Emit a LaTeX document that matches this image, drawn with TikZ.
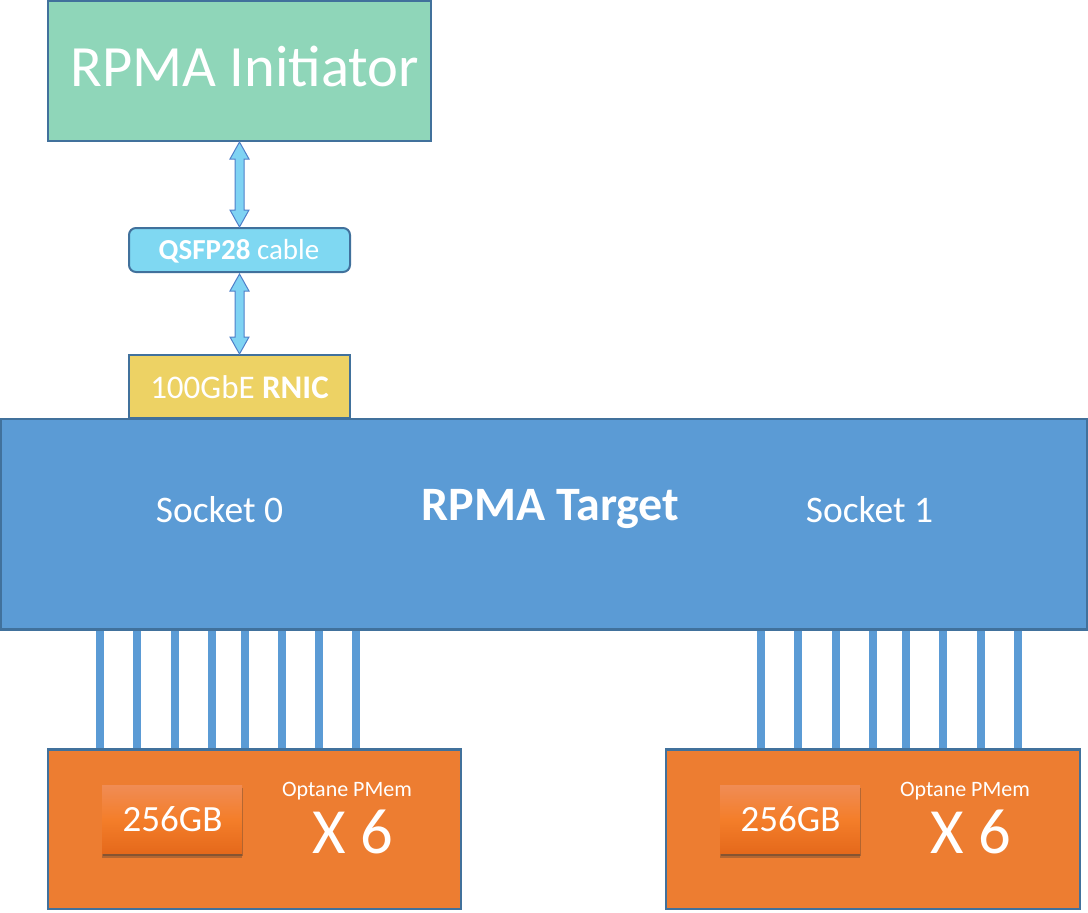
\documentclass[tikz,border=0pt]{standalone}
\usepackage{fontspec}
\setmainfont{Carlito}
\usetikzlibrary{calc,shadows}
\definecolor{bordc}{HTML}{41719C}
\definecolor{initc}{HTML}{8FD6B9}
\definecolor{qsfpc}{HTML}{7FD8F2}
\definecolor{rnicc}{HTML}{EDD264}
\definecolor{targc}{HTML}{5B9BD5}
\definecolor{orgc}{HTML}{ED7D31}
\definecolor{arrfill}{HTML}{7FD3F3}
\definecolor{arrline}{HTML}{4F7FC9}
\definecolor{chiptop}{HTML}{F08C55}
\definecolor{chipmid}{HTML}{F47E2A}
\definecolor{chipbot}{HTML}{E5691B}
\tikzset{
  box/.style={draw=bordc, line width=2pt, inner sep=0pt},
  lbl/.style={text=white, inner sep=0pt, anchor=base},
  bus/.style={draw=targc, line width=8pt},
  arr/.style={fill=arrfill, draw=arrline, line width=1pt, line join=miter},
  chip/.style={inner sep=0pt, minimum width=140pt, minimum height=68pt,
    top color=chiptop, bottom color=chipbot, middle color=chipmid,
    drop shadow={shadow xshift=0pt, shadow yshift=-5pt, opacity=0.3, fill=black!80},
    drop shadow={shadow xshift=1pt, shadow yshift=-3pt, opacity=0.35, fill=black!80}}
}
\newcommand{\dblarrow}[2]{%
  \draw[arr] let \p1=(#1), \p2=(#2) in
   (\x1,\y1) -- (\x1+9.5pt,\y1-17pt) -- (\x1+4.5pt,\y1-17pt) -- (\x1+4.5pt,\y2+17pt)
   -- (\x1+9.5pt,\y2+17pt) -- (\x1,\y2) -- (\x1-9.5pt,\y2+17pt) -- (\x1-4.5pt,\y2+17pt)
   -- (\x1-4.5pt,\y1-17pt) -- (\x1-9.5pt,\y1-17pt) -- cycle;}
\begin{document}
\begin{tikzpicture}[x=1pt,y=-1pt]
\useasboundingbox (0,0) rectangle (1088,913);
% boxes
\node[box, fill=initc, minimum width=383pt, minimum height=140pt] (init) at (239.5,71) {};
\node[box, fill=qsfpc, rounded corners=7pt, minimum width=221pt, minimum height=44pt] (qsfp) at (239.5,250) {};
\node[box, fill=rnicc, minimum width=221pt, minimum height=63pt] (rnic) at (239.5,386.5) {};
\node[box, fill=targc, minimum width=1086pt, minimum height=210pt] (targ) at (544,524) {};
% texts
\node[lbl, font=\fontsize{58.5}{60}\selectfont] (initt) at (245,86) {RPMA Initiator};
\node[lbl, font=\fontsize{29}{31}\selectfont] (qsfpt) at (239,259.3) {\textbf{QSFP28} cable};
\node[lbl, font=\fontsize{33}{35}\selectfont] (rnict) at (239.5,398.3) {100GbE \textbf{RNIC}};
\node[lbl, font=\bfseries\fontsize{48}{50}\selectfont] (targt) at (550.5,520) {RPMA Target};
\node[lbl, font=\fontsize{37.5}{39}\selectfont] (s0) at (219.5,522.5) {Socket 0};
\node[lbl, font=\fontsize{37.5}{39}\selectfont] (s1) at (869.5,522.5) {Socket 1};
% arrows
\coordinate (a1t) at (init.south -| 239.5,0);
\coordinate (a1b) at (qsfp.north -| 239.5,0);
\coordinate (a2t) at ([yshift=-1pt]qsfp.south -| 239.5,0);
\coordinate (a2b) at (rnic.north -| 239.5,0);
\dblarrow{a1t}{a1b}
\dblarrow{a2t}{a2b}
% memory boxes
\node[box, fill=orgc, minimum width=413pt, minimum height=159pt] (mem0) at (254.5,829.5) {};
\node[box, fill=orgc, minimum width=414pt, minimum height=159pt] (mem1) at (873,829.5) {};
% buses
\foreach \x in {100,137,175,212,245,282,319,356}{
  \draw[bus] (targ.south -| \x,0) -- (mem0.north -| \x,0);}
\foreach \x in {761,798,836,873,906,943,981,1018}{
  \draw[bus] (targ.south -| \x,0) -- (mem1.north -| \x,0);}
\draw[draw=bordc, line width=2pt] (targ.south west) -- (targ.south east);
\draw[draw=bordc, line width=2pt] (mem0.north west) -- (mem0.north east);
\draw[draw=bordc, line width=2pt] (mem1.north west) -- (mem1.north east);
% chips
\node[chip] (c0) at (172,819) {};
\node[chip] (c1) at (790,819) {};
\node[lbl, font=\fontsize{37}{39}\selectfont] (c0t) at (172.5,831.7) {256GB};
\node[lbl, font=\fontsize{37}{39}\selectfont] (c1t) at (790.5,831.7) {256GB};
\node[lbl, font=\fontsize{22}{24}\selectfont] (o0) at (347,796.7) {Optane PMem};
\node[lbl, font=\fontsize{64.5}{66}\selectfont] (x0) at (353,853) {X 6};
\node[lbl, font=\fontsize{22}{24}\selectfont] (o1) at (965,796.7) {Optane PMem};
\node[lbl, font=\fontsize{64.5}{66}\selectfont] (x1) at (970.5,853) {X 6};
\end{tikzpicture}
\end{document}
